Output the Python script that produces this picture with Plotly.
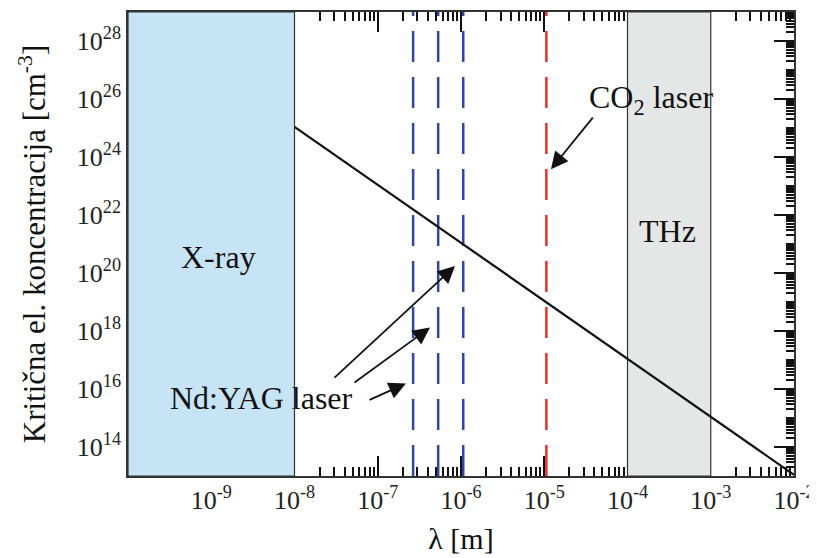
import plotly.graph_objects as go

# ---- data ----
lam_line = [1e-8, 1e-2]            # wavelength [m]
nc_line = [1.1e25, 1.1e13]         # critical density [cm^-3]

ndyag_lams = [266e-9, 532e-9, 1064e-9]
co2_lam = [10.6e-6]

xray_band = [1e-10, 1e-8]
thz_band = [1e-4, 1e-3]

x_tick_exps = [-9, -8, -7, -6, -5, -4, -3, -2]
y_tick_exps = [14, 16, 18, 20, 22, 24, 26, 28]

X_RANGE = [-10, -2]
Y_RANGE = [13, 29]

FONT = "Liberation Serif, Times New Roman, serif"
AXC = "#333333"
TKC = "#111111"

fig = go.Figure()

ylo, yhi = 10.0 ** Y_RANGE[0], 10.0 ** Y_RANGE[1]

# X-ray band
fig.add_trace(go.Scatter(
    x=[xray_band[0], xray_band[1], xray_band[1], xray_band[0], xray_band[0]],
    y=[ylo, ylo, yhi, yhi, ylo], fill="toself", fillcolor="#c6e4f5",
    line=dict(color="#333333", width=1.2), mode="lines", hoverinfo="skip",
    showlegend=False))
# THz band
fig.add_trace(go.Scatter(
    x=[thz_band[0], thz_band[1], thz_band[1], thz_band[0], thz_band[0]],
    y=[ylo, ylo, yhi, yhi, ylo], fill="toself", fillcolor="#e5e6e6",
    line=dict(color="#333333", width=1.2), mode="lines", hoverinfo="skip",
    showlegend=False))

# Nd:YAG dashed lines
for lam in ndyag_lams:
    fig.add_trace(go.Scatter(x=[lam, lam], y=[ylo, yhi], mode="lines",
                             line=dict(color="#2f47a6", width=2.5, dash="31px,15px"),
                             showlegend=False, hoverinfo="skip"))
# CO2 dashed line
for lam in co2_lam:
    fig.add_trace(go.Scatter(x=[lam, lam], y=[ylo, yhi], mode="lines",
                             line=dict(color="#e5322b", width=2.5, dash="31px,15px"),
                             showlegend=False, hoverinfo="skip"))

# Critical density line
fig.add_trace(go.Scatter(x=lam_line, y=nc_line, mode="lines",
                         line=dict(color="#111111", width=2.2),
                         showlegend=False))

# invisible traces carrying the tick-only overlay axes
for k in (2, 3):
    fig.add_trace(go.Scatter(x=[lam_line[0]], y=[nc_line[0]], xaxis=f"x{k}", yaxis=f"y{k}",
                             mode="markers", marker=dict(opacity=0, size=1),
                             hoverinfo="skip", showlegend=False))


def in_band(v):
    return (xray_band[0] <= v <= xray_band[1] * 1.0001) or (thz_band[0] * 0.9999 <= v <= thz_band[1] * 1.0001)


def minor_vals(e0, e1, majors):
    vals = []
    for e in range(e0, e1):
        for m in range(1, 10):
            v = m * 10.0 ** e
            if m == 1 and e in majors:
                continue
            vals.append(v)
    return vals


x_major_marks = [10.0 ** e for e in x_tick_exps if not in_band(10.0 ** e) and e < X_RANGE[1]]
x_minor = [v for v in minor_vals(X_RANGE[0], X_RANGE[1], x_tick_exps) if not in_band(v)]
y_minor = minor_vals(Y_RANGE[0], Y_RANGE[1], y_tick_exps)

line_style = dict(showline=True, linecolor=AXC, linewidth=1.5, showgrid=False,
                  zeroline=False, automargin=False)
tick_style = dict(ticks="inside", tickwidth=2, tickcolor=TKC, showticklabels=False,
                  showgrid=False, zeroline=False, automargin=False, showline=False)

tickfont = dict(family=FONT, size=26, color="#222")

fig.update_layout(
    xaxis=dict(
        type="log", range=X_RANGE, ticks="", mirror=True,
        tickvals=[10.0 ** e for e in x_tick_exps],
        ticktext=[f"10<sup>{e}</sup>" for e in x_tick_exps],
        tickfont=tickfont,
        title=dict(text="λ [m]", font=dict(family=FONT, size=30, color="#111"), standoff=14),
        **line_style),
    yaxis=dict(
        type="log", range=Y_RANGE, ticks="", mirror=True,
        tickvals=[10.0 ** e for e in y_tick_exps],
        ticktext=[f"10<sup>{e}</sup>" for e in y_tick_exps],
        tickfont=tickfont,
        title=dict(text="Kritična el. koncentracija [cm<sup>-3</sup>]",
                   font=dict(family=FONT, size=31, color="#111"), standoff=22),
        **line_style),
    # major tick marks (bottom + top), outside the shaded bands
    xaxis2=dict(type="log", range=X_RANGE, overlaying="x", anchor="y2", ticklen=20,
                tickvals=x_major_marks, mirror="allticks", **tick_style),
    # major tick marks on the right side only
    yaxis2=dict(type="log", range=Y_RANGE, overlaying="y", anchor="x2", side="right",
                ticklen=20, tickvals=[10.0 ** e for e in y_tick_exps], **tick_style),
    # minor tick marks
    xaxis3=dict(type="log", range=X_RANGE, overlaying="x", anchor="y3", ticklen=9,
                tickvals=x_minor, mirror="allticks", **tick_style),
    yaxis3=dict(type="log", range=Y_RANGE, overlaying="y", anchor="x3", side="right",
                ticklen=8, tickvals=y_minor, **tick_style),
)

tfont = dict(family=FONT, size=32, color="#111")
annotations = [
    dict(x=-8.907, y=20.55, text="X-ray", showarrow=False, font=tfont),
    dict(x=-3.514, y=21.45, text="THz", showarrow=False, font=tfont),
    dict(x=-8.402, y=15.68, text="Nd:YAG laser", showarrow=False, font=tfont),
    dict(x=-3.718, y=25.98, text="CO<sub>2</sub> laser", showarrow=False, font=tfont),
]
arrows = [
    (-6.072, 20.24, -122, 113),
    (-6.372, 18.12, -77, 56),
    (-6.661, 16.19, -38, 17),
    (-4.919, 23.58, 43, -53),
]
for (xa, ya, axp, ayp) in arrows:
    annotations.append(dict(x=xa, y=ya, ax=axp, ay=ayp, text="", showarrow=True,
                            arrowhead=2, arrowsize=1.9, arrowwidth=1.8,
                            arrowcolor="#111", standoff=0, startstandoff=0))
for a in annotations:
    a["xref"] = "x"
    a["yref"] = "y"

fig.update_layout(
    width=817, height=558,
    margin=dict(l=120, r=31, t=4, b=90),
    paper_bgcolor="white", plot_bgcolor="white",
    annotations=annotations,
    showlegend=False,
)

fig.write_html("out.html")
